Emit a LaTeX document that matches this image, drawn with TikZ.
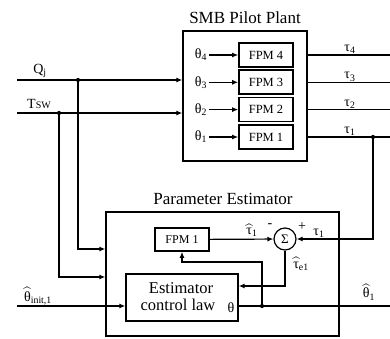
\documentclass[tikz,border=0pt]{standalone}
\usepackage{fontspec}
\usepackage{amsmath}
\setmainfont{Liberation Serif}
\usetikzlibrary{arrows.meta}
\newcommand\fs[1]{\fontsize{#1}{#1}\selectfont}
\newcommand\hatx[1]{$\widehat{\mbox{#1}}$}
\begin{document}
\begin{tikzpicture}[x=1pt,y=-1pt,
  box/.style={draw, line width=1.3pt, inner sep=0},
  fpm/.style={draw, line width=1.6pt, minimum width=54, minimum height=24, inner sep=0, font=\fs{12.5}},
  wire/.style={line width=1.2pt},
  arr/.style={wire, -{Latex[length=6pt,width=5pt]}},
  dot/.style={circle, fill, inner sep=0, minimum size=4.2pt},
  lbl/.style={font=\fs{14}, inner sep=1.5pt},
  ttl/.style={font=\fs{17}, inner sep=0}]
\useasboundingbox (0,0) rectangle (390,339);
% SMB pilot plant
\node[box, minimum width=124, minimum height=130] (smb) at (245,96) {};
\node[ttl] (smbt) at (245,18) {SMB Pilot Plant};
\foreach \i/\y in {4/55,3/82.3,2/109.6,1/137} {
  \node[fpm] (fpm\i) at (266,\y) {FPM \i};
  \node[lbl] (th\i) at (201,\y) {θ\textsubscript{\i}};
  \draw[arr] (th\i) -- (fpm\i);
  \coordinate (tend\i) at (390,\y);
  \draw[wire] (fpm\i.east -| smb.east) -- (tend\i);
  \node[lbl, anchor=south, inner sep=0] (tl\i) at (350,\y-1) {τ\textsubscript{\i}};
}
% inputs
\coordinate (qin) at (17,80);
\coordinate (tin) at (17,113);
\draw[arr] (qin) -- (qin -| smb.west);
\draw[arr] (tin) -- (tin -| smb.west);
\node[dot] (qd) at (78,80) {};
\node[dot] (td) at (59,113) {};
\node[lbl] (ql) at (40,71) {Q\textsubscript{j}};
\node[lbl] (tl) at (39,104) {T{\fs{10}SW}};
% parameter estimator
\node[box, minimum width=233, minimum height=124] (est) at (222.5,274) {};
\node[ttl] (estt) at (223,199) {Parameter Estimator};
\node[fpm, minimum height=23, font=\fs{12}] (fpme) at (182,239.5) {FPM 1};
\node[draw, circle, line width=1.2pt, minimum size=22, inner sep=0, font=\fs{13}] (sum) at (285,239) {Σ};
\node[box, minimum width=112, minimum height=47] (ecl) at (182,297.5) {};
\node[font=\fs{16.5}, inner sep=0] (ecl1) at (181,288) {Estimator};
\node[font=\fs{16.5}, inner sep=0] (ecl2) at (178,305) {control law};
\node[lbl, inner sep=0] (eth) at (231,308) {θ};
% connections
\draw[arr] (fpme) -- (sum);
\node[dot] (t1d) at (373,137) {};
\draw[arr] (t1d.center) |- (sum.east);
\coordinate (fbc) at (285,286);
\draw[arr] (sum.south) -- (fbc) -- (fbc -| ecl.east);
\coordinate (outc) at (390,306);
\draw[wire] (outc -| ecl.east) -- (outc);
\node[dot] (od) at (262,306) {};
\coordinate (upc) at (262,262);
\draw[arr] (od.center) -- (upc) -| (fpme.south);
\coordinate (iin) at (17,306);
\draw[arr] (iin) -- (iin -| ecl.west);
\coordinate (qe) at (78,249);
\draw[arr] (qd.center) -- (qe) -- (qe -| est.west);
\coordinate (te) at (59,277);
\draw[arr] (td.center) -- (te) -- (te -| est.west);
% labels
\node[lbl, inner sep=0] (tauh) at (252,230) {\hatx{τ}\textsubscript{1}};
\node[lbl, inner sep=0] (mn) at (270,226) {-};
\node[lbl, inner sep=0] (pl) at (302,227) {+};
\node[lbl, inner sep=0] (tau1) at (319,233) {τ\textsubscript{1}};
\node[lbl, inner sep=0] (taue) at (301,264) {\hatx{τ}\textsubscript{e1}};
\node[lbl, inner sep=0] (thh) at (369,292) {\hatx{θ}\textsubscript{1}};
\node[lbl, inner sep=0] (thi) at (38,296) {\hatx{θ}\textsubscript{init,1}};
\end{tikzpicture}
\end{document}
